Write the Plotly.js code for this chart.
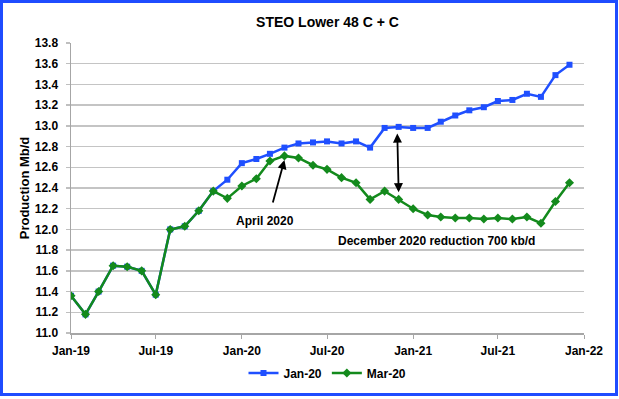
<!DOCTYPE html>
<html>
<head>
<meta charset="utf-8">
<script src="https://cdn.plot.ly/plotly-3.0.1.min.js"></script>
<style>
  html, body { margin: 0; padding: 0; background: #fff; }
  #wrap { position: relative; width: 619px; height: 399px; }
  #chart { width: 619px; height: 399px; }
  #frame { position: absolute; left: 0; top: 0; width: 612px; height: 390px; border: 3px solid #1f4cff; pointer-events: none; }
</style>
</head>
<body>
<div id="wrap"><div id="chart"></div><div id="frame"></div></div>
<script>
const months = [
  '2019-01-01','2019-02-01','2019-03-01','2019-04-01','2019-05-01','2019-06-01',
  '2019-07-01','2019-08-01','2019-09-01','2019-10-01','2019-11-01','2019-12-01',
  '2020-01-01','2020-02-01','2020-03-01','2020-04-01','2020-05-01','2020-06-01',
  '2020-07-01','2020-08-01','2020-09-01','2020-10-01','2020-11-01','2020-12-01',
  '2021-01-01','2021-02-01','2021-03-01','2021-04-01','2021-05-01','2021-06-01',
  '2021-07-01','2021-08-01','2021-09-01','2021-10-01','2021-11-01','2021-12-01'
];
const jan20 = [
  11.36, 11.18, 11.40, 11.65, 11.64, 11.60,
  11.37, 12.00, 12.03, 12.18, 12.37, 12.48,
  12.64, 12.68, 12.73, 12.79, 12.83, 12.84,
  12.85, 12.83, 12.85, 12.79, 12.98, 12.99,
  12.98, 12.98, 13.04, 13.10, 13.15, 13.18,
  13.24, 13.25, 13.31, 13.28, 13.49, 13.59
];
const mar20 = [
  11.36, 11.18, 11.40, 11.65, 11.64, 11.60,
  11.37, 12.00, 12.03, 12.18, 12.37, 12.30,
  12.42, 12.49, 12.66, 12.71, 12.69, 12.62,
  12.58, 12.50, 12.45, 12.29, 12.37, 12.29,
  12.20, 12.14, 12.12, 12.11, 12.11, 12.10,
  12.11, 12.10, 12.12, 12.06, 12.27, 12.45
];
const seriesNames = ['Jan-20', 'Mar-20'];
const yTicks = [11.0, 11.2, 11.4, 11.6, 11.8, 12.0, 12.2, 12.4, 12.6, 12.8, 13.0, 13.2, 13.4, 13.6, 13.8];
const yTickText = yTicks.map(v => v.toFixed(1));
const xTicks = ['2019-01-01','2019-07-01','2020-01-01','2020-07-01','2021-01-01','2021-07-01','2022-01-01'];
const xTickText = ['Jan-19','Jul-19','Jan-20','Jul-20','Jan-21','Jul-21','Jan-22'];

const FONT = 'Arial, "Liberation Sans", sans-serif';
const BLUE = '#1f4fff';
const GREEN = '#138a1c';

const traces = [
  { x: months, y: jan20, name: '<b>' + seriesNames[0] + '</b>', type: 'scatter', mode: 'lines+markers',
    line: { color: BLUE, width: 2.5 }, marker: { color: BLUE, symbol: 'square', size: 6 } },
  { x: months, y: mar20, name: '<b>' + seriesNames[1] + '</b>', type: 'scatter', mode: 'lines+markers',
    line: { color: GREEN, width: 2.5 }, marker: { color: GREEN, symbol: 'diamond', size: 7 } }
];

const layout = {
  width: 619, height: 399,
  margin: { l: 71, r: 35, t: 43, b: 62 },
  paper_bgcolor: '#fff', plot_bgcolor: '#fff',
  font: { family: FONT, size: 12, color: '#000' },
  title: { text: '<b>STEO Lower 48 C + C</b>', font: { family: FONT, size: 14, color: '#000' },
           x: 0.5, xref: 'paper', xanchor: 'center', y: 1 - 21.7/399, yanchor: 'middle' },
  xaxis: {
    type: 'date', range: ['2019-01-01', '2022-01-01'],
    tickvals: xTicks, ticktext: xTickText.map(t => '<b>' + t + '</b>'),
    ticks: 'outside', ticklen: 4, tickcolor: '#a6a6a6', tickwidth: 1,
    showgrid: false, showline: true, linecolor: '#a6a6a6', linewidth: 1.5,
    tickfont: { family: FONT, size: 12, color: '#000' }, zeroline: false, fixedrange: true,
    ticklabelstandoff: 2
  },
  yaxis: {
    range: [11.0, 13.8], tickvals: yTicks, ticktext: yTickText.map(t => '<b>' + t + '</b>'),
    ticks: 'outside', ticklen: 4, tickcolor: '#bfbfbf', tickwidth: 1.5,
    showgrid: true, gridcolor: '#c4c4c4', gridwidth: 1.5,
    showline: true, linecolor: '#a6a6a6', linewidth: 1.5, zeroline: false,
    tickfont: { family: FONT, size: 12, color: '#000' },
    ticklabelstandoff: 5,
    title: { text: '<b>Production Mb/d</b>', font: { family: FONT, size: 13, color: '#000' }, standoff: 2 },
    fixedrange: true
  },
  showlegend: true,
  legend: { orientation: 'h', x: 0.5, xanchor: 'center', y: (337.3 - 378) / 294.7, yanchor: 'middle',
            font: { family: FONT, size: 12, color: '#000' }, itemwidth: 30, bgcolor: 'rgba(0,0,0,0)' },
  annotations: [
    { x: '2020-04-01', y: 12.67, xref: 'x', yref: 'y', ax: -12, ay: 44, axref: 'pixel', ayref: 'pixel',
      showarrow: true, arrowhead: 2, arrowsize: 1, arrowwidth: 1.8, arrowcolor: '#000', text: '' },
    { x: '2020-02-20', y: 12.08, xref: 'x', yref: 'y', showarrow: false,
      text: '<b>April 2020</b>', font: { family: FONT, size: 12, color: '#000' } },
    { x: '2020-12-01', y: 12.36, xref: 'x', yref: 'y', ax: '2020-11-28', ay: 12.94, axref: 'x', ayref: 'y',
      showarrow: true, arrowhead: 2, startarrowhead: 2, arrowside: 'end+start', arrowsize: 1, arrowwidth: 1.8,
      arrowcolor: '#000', text: '' },
    { x: '2021-02-20', y: 11.893, xref: 'x', yref: 'y', showarrow: false,
      text: '<b>December 2020 reduction 700 kb/d</b>', font: { family: FONT, size: 12, color: '#000' } }
  ]
};

Plotly.newPlot('chart', traces, layout, { displayModeBar: false, staticPlot: true });
</script>
</body>
</html>
